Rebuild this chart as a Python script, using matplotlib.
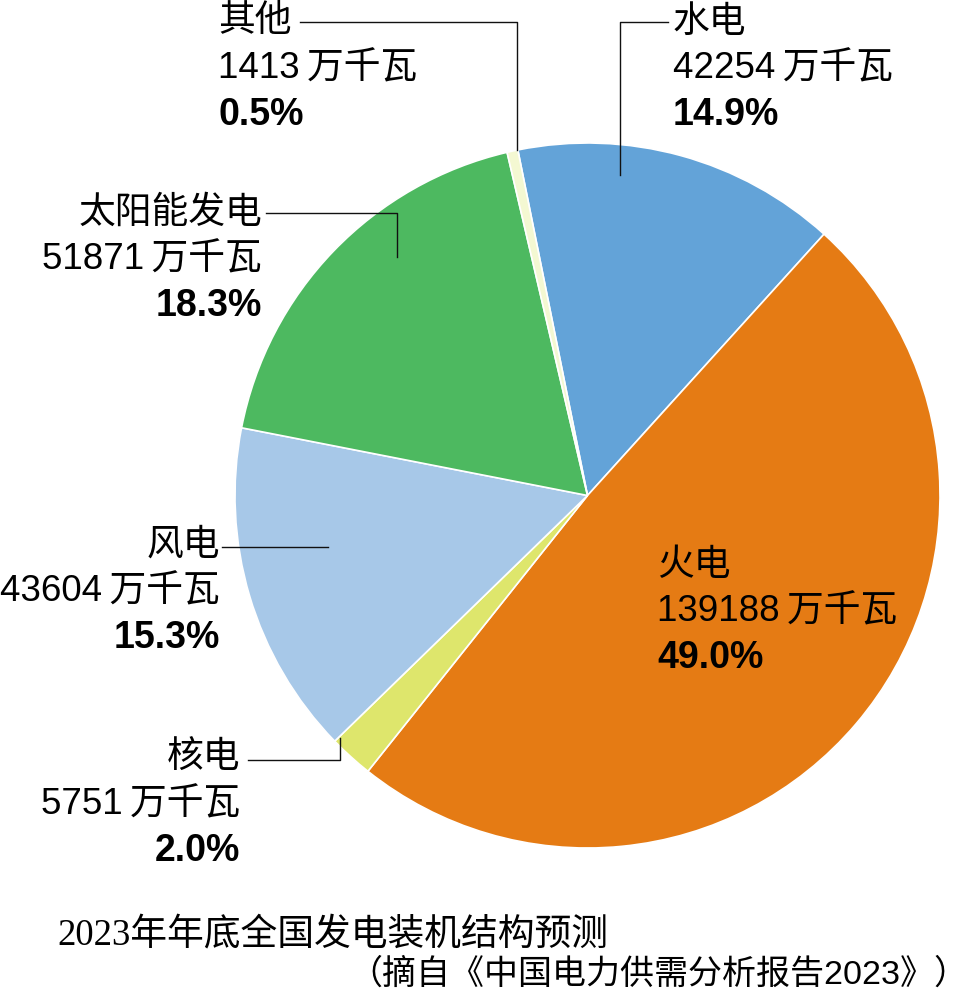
import matplotlib
matplotlib.use('Agg')
from matplotlib import pyplot as plt

# data (万千瓦)
names = ['水电', '火电', '核电', '风电', '太阳能发电', '其他']
capacity = [42254, 139188, 5751, 43604, 51871, 1413]
shares = ['14.9%', '49.0%', '2.0%', '15.3%', '18.3%', '0.5%']
colors = ['#63a3d8', '#e57b14', '#dee66c', '#a7c8e8', '#4db960', '#f4f8d2']

title1 = '2023年年底全国发电装机结构预测'
title2 = '（摘自《中国电力供需分析报告2023》）'

W, H = 972, 999
sans = ['Liberation Sans', 'Noto Sans CJK SC']
serif = ['Liberation Serif', 'Noto Sans CJK SC']


def Y(y):
    # image pixel row -> data y
    return H - y


fig = plt.figure(figsize=(W / 100, H / 100), dpi=100)
ax = fig.add_axes([0, 0, 1, 1])

ax.pie(capacity, colors=colors, startangle=101.4, counterclock=False,
       center=(587.5, Y(495.5)), radius=352.5,
       wedgeprops={'edgecolor': 'white', 'linewidth': 1.2})
ax.set_xlim(0, W)
ax.set_ylim(0, H)
ax.axis('off')

# label placement: (x, y of first line, alignment, leader line points)
layout = {
    '水电': (673, 22, 'left', [(620, 175), (620, 22), (668, 22)]),
    '火电': (657, 565, 'left', None),
    '核电': (240, 758, 'right', [(340, 738), (340, 760), (248, 760)]),
    '风电': (220, 545, 'right', [(328, 547), (222, 547)]),
    '太阳能发电': (262, 213, 'right', [(397, 257), (397, 213), (266, 213)]),
    '其他': (218, 22, 'left', [(517, 150), (517, 22), (300, 22)]),
}

gap = 46.5
for name, cap, pct in zip(names, capacity, shares):
    x, y0, ha, line = layout[name]
    ax.text(x, Y(y0), name, ha=ha, va='center', fontsize=26.5, family=sans)
    ax.text(x, Y(y0 + gap), f'{cap}\u2009万千瓦', ha=ha, va='center',
            fontsize=26.5, family=sans)
    ax.text(x, Y(y0 + 2 * gap), pct, ha=ha, va='center', fontsize=27,
            fontweight='bold', family=sans)
    if line:
        ax.plot([p[0] for p in line], [Y(p[1]) for p in line],
                color='#111111', lw=1.0)

ax.text(57, Y(935), title1, ha='left', va='center', fontsize=26.5,
        family=serif)
ax.text(968, Y(975), title2, ha='right', va='center', fontsize=24.5,
        fontweight='medium', family=sans)

plt.savefig('out.png', dpi=100)
